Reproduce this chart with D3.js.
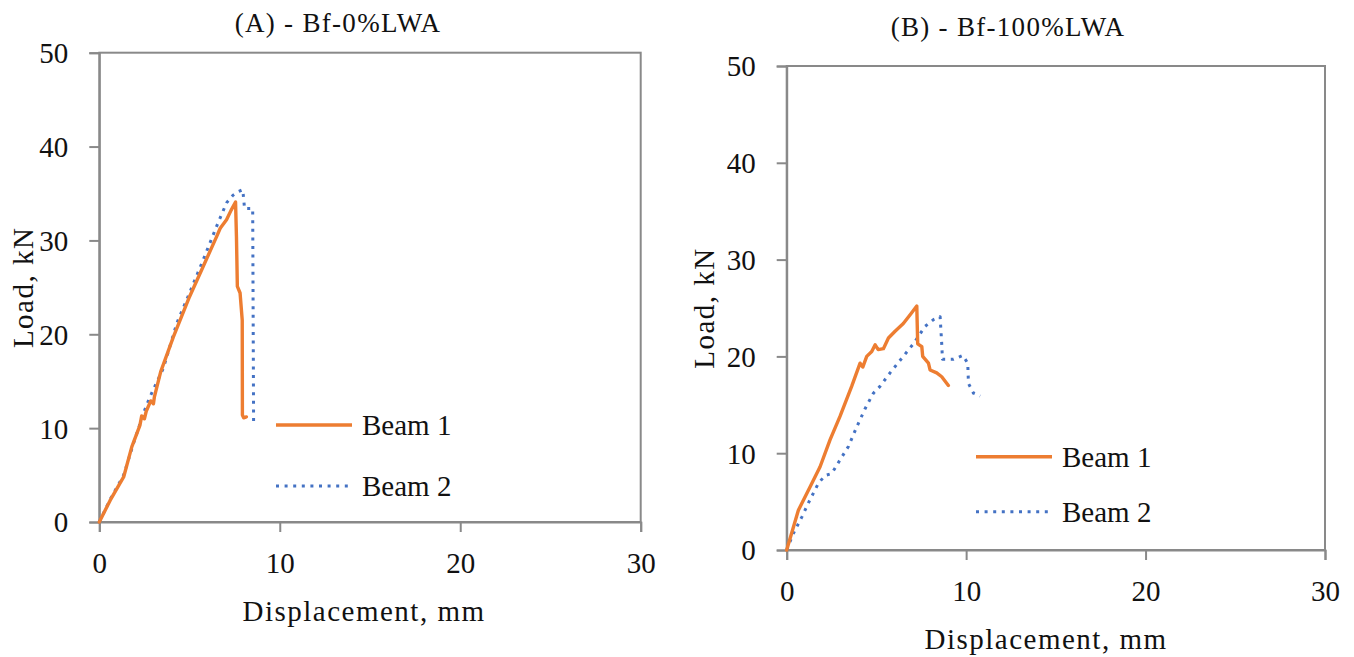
<!DOCTYPE html>
<html>
<head>
<meta charset="utf-8">
<script src="https://cdn.jsdelivr.net/npm/d3@7"></script>
<style>
  html, body { margin: 0; padding: 0; background: #fff; }
  svg { display: block; }
  text { font-family: "Liberation Serif", "Times New Roman", serif; fill: #111; }
</style>
</head>
<body>
<svg id="chart" width="1354" height="657"></svg>
<script>
// ---------- data ----------
const xTicks = [0, 10, 20, 30];
const yTicks = [0, 10, 20, 30, 40, 50];
const panelTitles = ["(A) - Bf-0%LWA", "(B) - Bf-100%LWA"];
const seriesNames = ["Beam 1", "Beam 2"];
const xLabel = "Displacement, mm";
const yLabel = "Load, kN";

// Panel A: Bf-0%LWA  [displacement mm, load kN]
const beam1A = [[0,0],[0.6,2.3],[1.35,4.8],[1.8,8.0],[2.25,10.3],[2.35,11.3],[2.5,11.0],[2.6,11.8],
  [2.85,12.9],[3.0,12.6],[3.05,13.3],[3.4,16.0],[4.1,19.7],[5.0,24.0],[5.75,27.2],[6.5,30.4],
  [6.7,31.3],[7.05,32.2],[7.3,33.2],[7.55,34.1],[7.6,30.4],[7.65,25.1],[7.8,24.4],[7.92,21.5],
  [7.93,11.4],[8.0,11.1],[8.15,11.2]];
const beam2A = [[0,0],[0.6,2.4],[1.35,5.0],[1.9,8.4],[2.45,11.6],[2.8,13.3],[3.55,16.4],[4.3,21.2],
  [5.0,24.4],[5.75,27.9],[6.5,31.5],[7.05,34.0],[7.4,34.8],[7.7,35.2],[7.95,35.4],[8.05,33.4],
  [8.5,33.4],[8.55,10.5]];

// Panel B: Bf-100%LWA
const beam1B = [[0,0],[0.65,4.1],[1.3,6.5],[1.86,8.6],[2.42,11.4],[2.97,13.8],[3.62,16.9],[4.09,19.3],
  [4.24,18.9],[4.46,20.0],[4.74,20.5],[4.93,21.2],[5.1,20.7],[5.39,20.8],[5.67,21.9],[6.04,22.6],
  [6.5,23.4],[6.88,24.3],[7.25,25.2],[7.3,21.3],[7.53,21.0],[7.58,20.0],[7.9,19.3],[7.99,18.6],
  [8.36,18.3],[8.64,17.9],[9.01,17.0]];
const beam2B = [[0,0],[0.37,1.7],[0.84,3.4],[1.3,5.2],[1.77,6.9],[2.14,7.7],[2.51,7.9],[2.97,9.3],
  [3.44,10.7],[3.9,12.7],[4.37,14.6],[4.83,16.2],[5.2,16.9],[5.76,18.3],[6.41,19.8],[7.06,21.3],
  [7.71,23.1],[8.18,23.8],[8.55,24.1],[8.64,21.3],[8.68,19.7],[9.29,19.7],[9.81,20.1],[10.09,19.3],
  [10.13,17.2],[10.41,16.2],[10.78,15.9]];

// ---------- layout ----------
const panels = [
  { title: panelTitles[0], s1: beam1A, s2: beam2A,
    left: 99.3, right: 640.7, top: 52.7, bottom: 522,
    titleX: 338, titleY: 32, yTitleX: 33, xTitleX: 364,
    legX: 276, legY: 425, legGap: 61 },
  { title: panelTitles[1], s1: beam1B, s2: beam2B,
    left: 786.7, right: 1325, top: 66, bottom: 550,
    titleX: 1008, titleY: 36, yTitleX: 714, xTitleX: 1046,
    legX: 976, legY: 456.7, legGap: 55 }
];

const svg = d3.select("#chart");
svg.append("rect").attr("width", 1354).attr("height", 657).attr("fill", "#fff");

const axisColor = "#898989";
const orange = "#ED7D31";
const blue = "#4472C4";
const dotDash = "3 5.6";

panels.forEach(p => {
  const x = d3.scaleLinear().domain([0, 30]).range([p.left, p.right]);
  const y = d3.scaleLinear().domain([0, 50]).range([p.bottom, p.top]);
  const g = svg.append("g");

  // frame
  g.append("rect")
    .attr("x", p.left).attr("y", p.top)
    .attr("width", p.right - p.left).attr("height", p.bottom - p.top)
    .attr("fill", "none").attr("stroke", axisColor).attr("stroke-width", 2);

  // y axis
  const yAxis = d3.axisLeft(y).tickValues(yTicks).tickSize(10).tickPadding(21);
  const ya = g.append("g").attr("transform", `translate(${p.left},0)`).call(yAxis);
  // x axis
  const xAxis = d3.axisBottom(x).tickValues(xTicks).tickSize(10).tickPadding(20);
  const xa = g.append("g").attr("transform", `translate(0,${p.bottom})`).call(xAxis);

  [ya, xa].forEach(a => {
    a.select(".domain").attr("stroke", axisColor).attr("stroke-width", 2);
    a.selectAll(".tick line").attr("stroke", axisColor).attr("stroke-width", 2);
    a.selectAll(".tick text")
      .attr("fill", "#111")
      .style("font-family", '"Liberation Serif", serif')
      .style("font-size", "29px");
  });
  ya.selectAll(".tick text").attr("dy", "0.34em");
  xa.selectAll(".tick text").attr("dy", "0.71em");

  // lines
  const line = d3.line().x(d => x(d[0])).y(d => y(d[1]));
  g.append("path").datum(p.s2).attr("d", line)
    .attr("fill", "none").attr("stroke", blue).attr("stroke-width", 3)
    .attr("stroke-dasharray", dotDash).attr("stroke-linejoin", "round");
  g.append("path").datum(p.s1).attr("d", line)
    .attr("fill", "none").attr("stroke", orange).attr("stroke-width", 3.4)
    .attr("stroke-linejoin", "round").attr("stroke-linecap", "round");

  // title
  g.append("text").attr("x", p.titleX).attr("y", p.titleY)
    .attr("text-anchor", "middle").style("font-size", "27px").style("letter-spacing", "1.3px")
    .text(p.title);
  // x title
  g.append("text").attr("x", p.xTitleX).attr("y", p.bottom + 99)
    .attr("text-anchor", "middle").style("font-size", "29px").style("letter-spacing", "1.5px")
    .text(xLabel);
  // y title
  const cy = (p.top + p.bottom) / 2;
  g.append("text")
    .attr("transform", `translate(${p.yTitleX},${cy}) rotate(-90)`)
    .attr("text-anchor", "middle").style("font-size", "29px").style("letter-spacing", "1.5px")
    .text(yLabel);

  // legend
  const leg = g.append("g");
  [[orange, null, 3.4], [blue, dotDash, 3]].forEach((st, i) => {
    const ly = p.legY + i * p.legGap;
    const ln = leg.append("line").attr("x1", p.legX).attr("x2", p.legX + 76)
      .attr("y1", ly).attr("y2", ly).attr("stroke", st[0]).attr("stroke-width", st[2]);
    if (st[1]) ln.attr("stroke-dasharray", st[1]);
    leg.append("text").attr("x", p.legX + 86).attr("y", ly + 10)
      .style("font-size", "29px").text(seriesNames[i]);
  });
});
</script>
</body>
</html>
